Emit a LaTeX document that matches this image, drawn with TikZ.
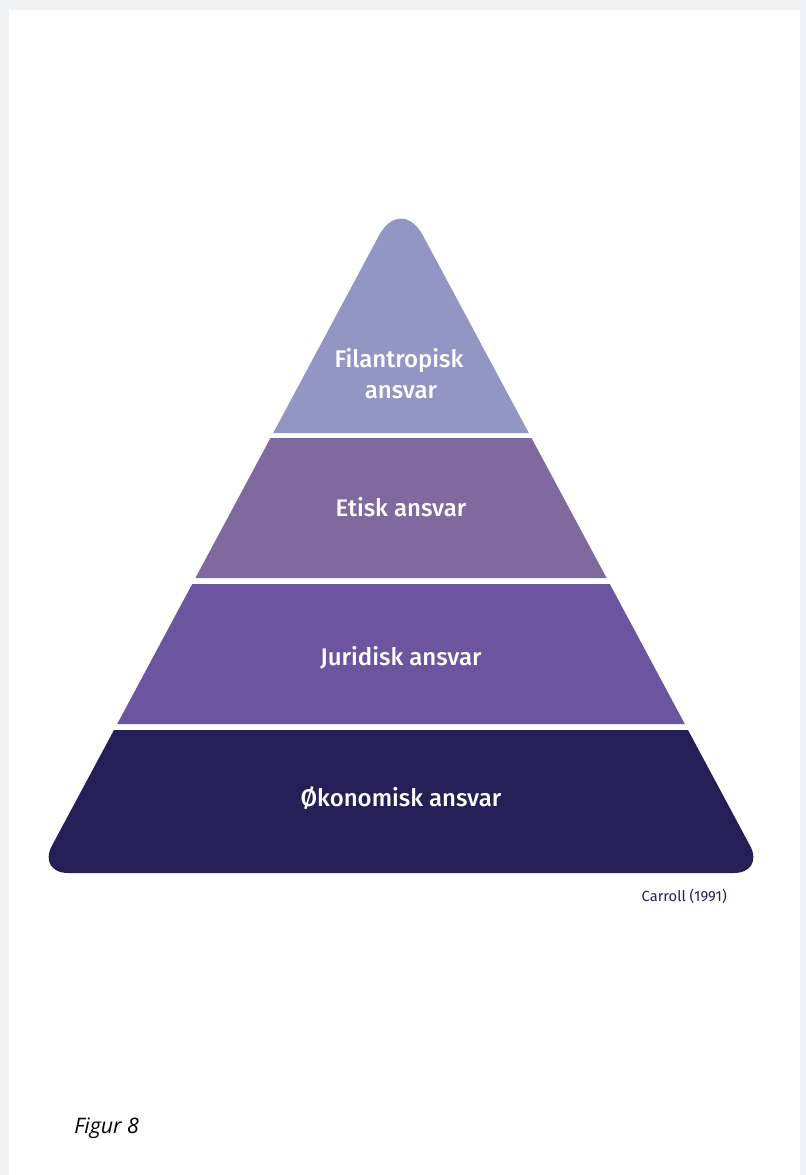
\documentclass[tikz,border=0pt]{standalone}
\usepackage{fontspec}
\setmainfont{Fira Sans}
\newfontfamily\labelfont{Fira Sans Medium}
\newfontfamily\captionfont{Open Sans}
\definecolor{pagegray}{HTML}{F1F2F4}
\definecolor{tierone}{HTML}{9296C4}
\definecolor{tiertwo}{HTML}{7F699E}
\definecolor{tierthree}{HTML}{6A559E}
\definecolor{tierfour}{HTML}{261F57}
\tikzset{
  tierlabel/.style={text=white, font=\labelfont\fontsize{18}{22}\selectfont, anchor=base, inner sep=0pt},
}
\begin{document}
\begin{tikzpicture}[x=0.75pt, y=-0.75pt]
  % page and card
  \fill[pagegray] (0,0) rectangle (806,1175);
  \fill[white] (9,10) rectangle (800,1175);
  \useasboundingbox (0,0) rectangle (806,1175);

  % top tier (rounded apex)
  \fill[tierone] (273.2,433) [rounded corners=35pt] -- (401,194.5) [sharp corners] -- (528.8,433) -- cycle;
  % second tier
  \fill[tiertwo] (270.5,438) -- (531.5,438) -- (606.6,578) -- (195.4,578) -- cycle;
  % third tier
  \fill[tierthree] (192.2,584) -- (609.8,584) -- (684.8,724) -- (117.2,724) -- cycle;
  % base tier (rounded bottom corners)
  \fill[tierfour] (114,730) -- (688,730) [rounded corners=23.2pt] -- (764.7,873) -- (37.3,873) [sharp corners] -- cycle;

  % labels
  \node[tierlabel] (fil1) at (399,367) {Filantropisk};
  \node[tierlabel] (fil2) at (401,398) {ansvar};
  \node[tierlabel] (etisk) at (401,516) {Etisk ansvar};
  \node[tierlabel] (jur) at (401,665) {Juridisk ansvar};
  \node[tierlabel] (oko) at (401,806) {Økonomisk ansvar};

  % source and caption
  \node[anchor=base east, inner sep=0pt, text=tierfour, font=\fontsize{11}{13}\selectfont] (src) at (727,901) {Carroll (1991)};
  \node[anchor=base west, inner sep=0pt, text=black, font=\captionfont\itshape\fontsize{16}{19}\selectfont] (cap) at (74,1133) {Figur 8};
\end{tikzpicture}
\end{document}
